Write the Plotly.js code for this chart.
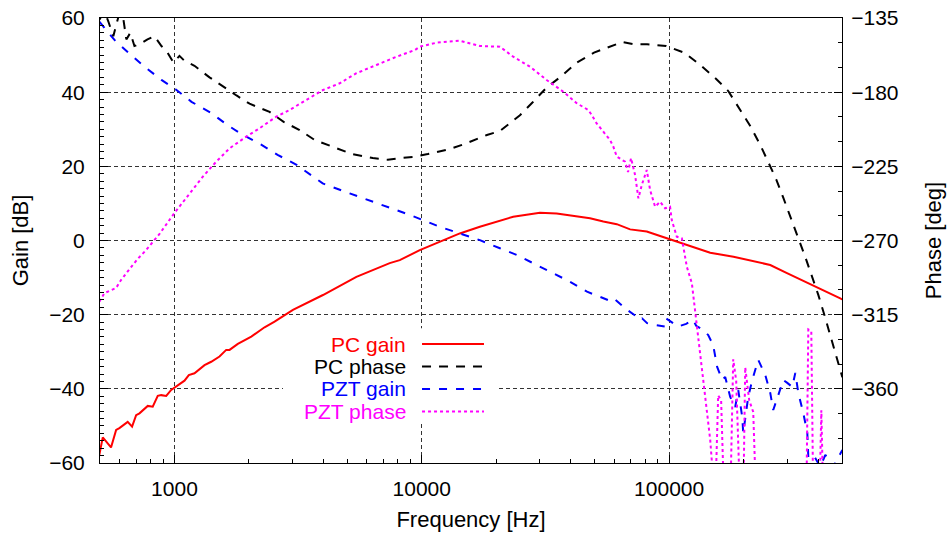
<!DOCTYPE html>
<html><head><meta charset="utf-8">
<script src="https://cdn.plot.ly/plotly-3.0.1.min.js"></script>
<style>html,body{margin:0;padding:0;background:#fff}#chart{width:947px;height:534px}</style>
</head><body><div id="chart"></div>
<script>
// ---- Data (frequency in Hz, gain in dB, phase in deg) ----
const seriesNames = ['PC gain', 'PC phase', 'PZT gain', 'PZT phase'];
const seriesColors = ['#ff0000', '#000000', '#0000ff', '#ff00ff'];

const pcGainFreq = [497, 513, 554, 581, 599, 647, 674, 700, 722, 780, 817, 856, 884, 926, 970, 1031, 1098, 1143, 1205, 1323, 1408, 1521, 1619, 1670, 1804, 2045, 2314, 2540, 3013, 3985, 5440, 7420, 8147, 9815, 14250, 17170, 20690, 23420, 27360, 30040, 35110, 40980, 47880, 54200, 61430, 69530, 81220, 91960, 100900, 114300, 133500, 146600, 182100, 233600, 256400, 299600, 339200, 383900, 434600, 492000, 501700];
const pcGain = [-57.8, -53.1, -55.8, -51.1, -50.6, -48.9, -50.2, -47.1, -46.6, -44.6, -44.8, -41.9, -41.7, -41.9, -40.3, -39.0, -37.8, -36.3, -35.8, -33.6, -32.7, -31.3, -29.5, -29.5, -27.9, -25.9, -23.4, -21.9, -18.7, -14.7, -9.8, -6.1, -5.3, -2.6, 1.9, 3.7, 5.3, 6.4, 7.1, 7.5, 7.3, 6.6, 6.0, 5.1, 4.4, 3.0, 2.4, 1.2, 0.3, -0.75, -2.4, -3.3, -4.4, -6.0, -6.6, -8.8, -10.5, -12.0, -13.8, -15.6, -15.9];

const pcPhaseFreq = [497, 521, 540, 566, 599, 622, 639, 663, 689, 722, 778, 830, 886, 937, 991, 1048, 1098, 1205, 1386, 1550, 1782, 2012, 2250, 2424, 2763, 3207, 3688, 4485, 5207, 6334, 7284, 8147, 9196, 10576, 12986, 14935, 18337, 20694, 24940, 27890, 32070, 36210, 42420, 49700, 58780, 64530, 72850, 81470, 97250, 115000, 133550, 155000, 173400, 193900, 212800, 233600, 251600, 271200, 289400, 309000, 329800, 355300, 379200, 401000, 424100, 457000, 483300, 501700];
const pcPhase = [-136, -131, -137, -146, -132, -136, -148, -144, -152, -151, -148, -146, -152, -156, -162, -158, -161, -164, -171, -176, -182, -187, -190, -192, -198, -203, -209, -214, -217.5, -220, -221, -220, -219.3, -217.5, -214.5, -211.4, -206, -203.6, -194, -186.6, -177, -171, -162, -156, -152, -149.6, -151, -151, -152, -156, -163.5, -172, -179.3, -191, -200.5, -212, -222, -233, -244, -256, -267, -280, -292, -303, -315, -332, -345.5, -353];

const pztGainFreq = [497, 572, 645, 756, 886, 1019, 1172, 1412, 1639, 1868, 2250, 2612, 3118, 3975, 5110, 6334, 7420, 8942, 11830, 14250, 17170, 20690, 24240, 28140, 32980, 39730, 46560, 54060, 58780, 60500, 67610, 74200, 76000, 77760, 81470, 87770, 96330, 97250, 108750, 117200, 125100, 128600, 137300, 143900, 150700, 156400, 163900, 168600, 176600, 185000, 190300, 197500, 199400, 208800, 216800, 229300, 244800, 256400, 263600, 276300, 289400, 300400, 314800, 323700, 332900, 348700, 362000, 365400, 382800, 408700, 428100, 461400, 501700];
const pztGain = [59.0, 54.1, 50.9, 46.9, 43.3, 40.6, 37.4, 34.3, 31.1, 28.7, 25.8, 23.1, 20.4, 15.4, 12.7, 10.5, 8.7, 6.9, 3.7, 1.9, 0.1, -2.1, -3.9, -6.1, -8.4, -11.1, -13.8, -15.6, -16.5, -15.9, -18.7, -20.6, -21.4, -21.0, -22.3, -22.8, -23.2, -21.0, -23.2, -22.5, -21.4, -23.0, -24.1, -25.5, -28.2, -34.1, -37.6, -36.8, -42.2, -44.9, -40.3, -47.6, -51.9, -42.2, -37.6, -32.2, -36.3, -41.1, -45.7, -41.7, -37.6, -38.4, -39.5, -35.7, -41.1, -46.5, -51.9, -58.4, -57.8, -61.0, -57.8, -61.0, -56.5];

const pztPhaseFreq = [497, 521, 581, 608, 668, 710, 768, 817, 870, 1000, 1150, 1302, 1475, 1670, 1951, 2208, 2580, 2921, 3414, 3985, 4656, 5440, 6556, 7903, 9389, 9815, 11470, 14250, 17170, 20690, 23420, 27360, 31980, 37340, 42290, 47140, 48630, 50930, 54200, 57690, 59500, 61430, 66350, 68230, 70170, 72850, 75120, 77550, 81220, 83780, 87770, 91960, 96330, 100900, 102500, 107400, 112600, 114300, 117900, 123600, 127500, 133500, 139900, 146600, 150700, 153500, 157900, 162300, 167000, 176600, 181600, 186700, 193900, 199400, 203100, 210800, 218800, 225000, 233600, 300000, 358600, 365400, 375700, 382800, 404900, 412500, 420300, 501700];
const pztPhase = [-307.1, -301.9, -298.8, -294, -286.1, -281.2, -275.8, -270.9, -266, -253.3, -241.4, -231.3, -222.2, -214.1, -207, -201.9, -194.9, -190.8, -184.7, -178.7, -174.6, -168.5, -163.5, -158.5, -154.4, -152.4, -150, -148.8, -152, -152.4, -158.5, -164.5, -172.6, -179.7, -186.7, -190.8, -193.8, -198.9, -204, -209, -213.1, -219.1, -222.2, -228.4, -220, -230.3, -244.4, -236.3, -227.2, -239.4, -249.5, -246.5, -250.5, -249.5, -257.6, -267.7, -268.7, -273.8, -285.9, -296, -314.2, -340.5, -364.8, -391, -412, -430, -364, -367, -430, -430, -342, -355, -430, -430, -347, -367, -374, -430, -430, -430, -430, -324, -325, -430, -430, -373, -430, -430];

// ---- Axis tick labels ----
const xTickVals = [1000, 10000, 100000];
const xTickText = ['1000', '10000', '100000'];
const yTickVals = [-60, -40, -20, 0, 20, 40, 60];
const y2TickVals = [-360, -315, -270, -225, -180, -135];

const FONT = 'Liberation Sans, Arial, Helvetica, sans-serif';

const xMinor = [];
[100, 1000, 10000, 100000].forEach(d => { for (let k = 2; k <= 9; k++) xMinor.push(k * d); });

const legDash = ['solid', '9px,8px', '8px,9px', '3px,3px'];

const traces = [
  {x: pcGainFreq, y: pcGain, yaxis: 'y'},
  {x: pcPhaseFreq, y: pcPhase, yaxis: 'y2'},
  {x: pztGainFreq, y: pztGain, yaxis: 'y'},
  {x: pztPhaseFreq, y: pztPhase, yaxis: 'y2'}
].map((t, i) => Object.assign(t, {
  name: seriesNames[i], mode: 'lines', showlegend: false, hoverinfo: 'skip',
  line: {color: seriesColors[i], width: 2, dash: legDash[i]}
}));

// custom legend: right-aligned text, sample line to the right (gnuplot style)
const legTextX = 0.4137, legLineX0 = 0.434, legLineX1 = 0.5175;
const legRowsY = [0.2674, 0.2169, 0.1663, 0.1157];

const annotations = seriesNames.map((n, i) => ({
  xref: 'paper', yref: 'paper', x: legTextX, y: legRowsY[i], xanchor: 'right', yanchor: 'middle',
  text: n, showarrow: false, borderpad: 0, font: {family: FONT, size: 21, color: seriesColors[i]}
}));

const shapes = [
  {type: 'rect', xref: 'paper', yref: 'paper', x0: 0.2466, x1: 0.535, y0: 0.09, y1: 0.303,
   fillcolor: '#ffffff', line: {width: 0}, layer: 'above'}
].concat(seriesNames.map((n, i) => ({
  type: 'line', xref: 'paper', yref: 'paper', x0: legLineX0, x1: legLineX1, y0: legRowsY[i], y1: legRowsY[i],
  line: {color: seriesColors[i], width: 2, dash: legDash[i]}, layer: 'above'
})));

const gridStyle = {showgrid: true, gridcolor: '#333', gridwidth: 1, griddash: '4px,3px'};

const layout = {
  width: 947, height: 534,
  margin: {l: 100, r: 105, t: 18, b: 71, pad: 0},
  paper_bgcolor: '#fff', plot_bgcolor: '#fff',
  font: {family: FONT, size: 21, color: '#000'},
  showlegend: false,
  xaxis: Object.assign({
    type: 'log', range: [Math.log10(500), Math.log10(500000)],
    tickmode: 'array', tickvals: xTickVals, ticktext: xTickText,
    ticks: 'inside', ticklen: 8, tickwidth: 1, tickcolor: '#000',
    minor: {tickmode: 'array', tickvals: xMinor, ticks: 'inside', ticklen: 4, tickwidth: 1, tickcolor: '#000', showgrid: false},
    showline: true, linecolor: '#000', linewidth: 1, mirror: true, zeroline: false,
    tickfont: {family: FONT, size: 21}, ticklabelstandoff: 7,
    title: {text: 'Frequency [Hz]', font: {family: FONT, size: 22}, standoff: 12}
  }, gridStyle),
  yaxis: Object.assign({
    range: [-60, 60], tickmode: 'array', tickvals: yTickVals,
    ticks: 'inside', ticklen: 8, tickwidth: 1, tickcolor: '#000',
    minor: {dtick: 2, tick0: 0, ticks: 'inside', ticklen: 4, tickwidth: 1, tickcolor: '#000', showgrid: false},
    showline: true, linecolor: '#000', linewidth: 1, mirror: true, zeroline: false,
    tickfont: {family: FONT, size: 21}, ticklabelstandoff: 10,
    title: {text: 'Gain [dB]', font: {family: FONT, size: 22}, standoff: 14}
  }, gridStyle),
  yaxis2: {
    overlaying: 'y', side: 'right', range: [-405, -135],
    tickmode: 'array', tickvals: y2TickVals,
    ticks: 'inside', ticklen: 8, tickwidth: 1, tickcolor: '#000',
    minor: {dtick: 15, tick0: -135, ticks: 'inside', ticklen: 4, tickwidth: 1, tickcolor: '#000', showgrid: false},
    showgrid: false, zeroline: false, showline: true, linecolor: '#000', linewidth: 1,
    tickfont: {family: FONT, size: 21}, ticklabelstandoff: 4,
    title: {text: 'Phase [deg]', font: {family: FONT, size: 22}, standoff: 28}
  },
  annotations: annotations,
  shapes: shapes
};

Plotly.newPlot('chart', traces, layout, {displayModeBar: false, staticPlot: true});
</script>
</body></html>
